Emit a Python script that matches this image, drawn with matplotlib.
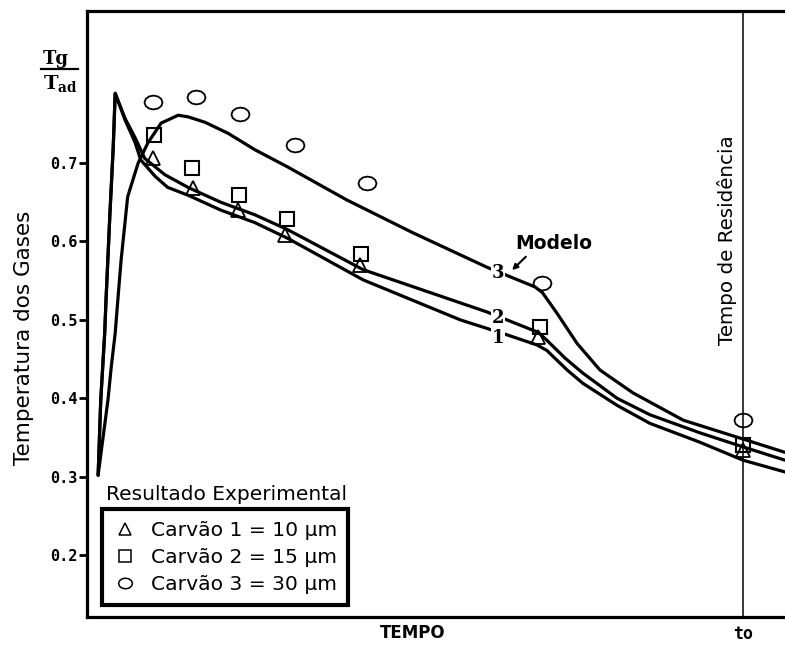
import numpy as np
import matplotlib
matplotlib.use('Agg')
import matplotlib.pyplot as plt
from matplotlib.path import Path
from matplotlib.lines import Line2D

# curvas do modelo (tempo normalizado, to = 1)
x_mod1 = [0.017, 0.021, 0.027, 0.029, 0.035, 0.040, 0.043, 0.058, 0.073, 0.082, 0.104, 0.123,
          0.154, 0.204, 0.256, 0.306, 0.421, 0.569, 0.640, 0.686, 0.701, 0.732, 0.756, 0.808,
          0.858, 0.934, 1.000, 1.064]
y_mod1 = [0.302, 0.398, 0.483, 0.525, 0.636, 0.720, 0.789, 0.755, 0.727, 0.704, 0.683, 0.669,
          0.659, 0.640, 0.624, 0.604, 0.551, 0.500, 0.481, 0.468, 0.461, 0.436, 0.419, 0.391,
          0.368, 0.344, 0.321, 0.306]

x_mod2 = [0.017, 0.021, 0.027, 0.029, 0.035, 0.040, 0.043, 0.058, 0.073, 0.088, 0.119, 0.154,
          0.204, 0.256, 0.306, 0.421, 0.610, 0.640, 0.688, 0.701, 0.729, 0.756, 0.808, 0.858,
          0.934, 1.000, 1.064]
y_mod2 = [0.302, 0.398, 0.483, 0.525, 0.636, 0.720, 0.789, 0.757, 0.733, 0.706, 0.685, 0.669,
          0.650, 0.634, 0.615, 0.564, 0.510, 0.500, 0.484, 0.474, 0.451, 0.432, 0.400, 0.379,
          0.356, 0.338, 0.321]

x_mod3 = [0.017, 0.032, 0.037, 0.043, 0.047, 0.052, 0.062, 0.078, 0.093, 0.113, 0.139, 0.154,
          0.180, 0.215, 0.256, 0.306, 0.396, 0.497, 0.610, 0.645, 0.683, 0.694, 0.716, 0.747,
          0.782, 0.832, 0.909, 1.000, 1.064]
y_mod3 = [0.302, 0.398, 0.440, 0.483, 0.525, 0.576, 0.657, 0.700, 0.726, 0.751, 0.761, 0.759,
          0.752, 0.738, 0.717, 0.695, 0.653, 0.611, 0.567, 0.555, 0.542, 0.535, 0.509, 0.470,
          0.436, 0.407, 0.372, 0.348, 0.331]

# resultados experimentais
x_c1 = [0.101, 0.162, 0.230, 0.302, 0.416, 0.688, 1.000]
y_c1 = [0.706, 0.668, 0.640, 0.608, 0.570, 0.478, 0.334]
x_c2 = [0.102, 0.160, 0.232, 0.305, 0.418, 0.691, 1.000]
y_c2 = [0.736, 0.694, 0.659, 0.629, 0.584, 0.491, 0.340]
x_c3 = [0.101, 0.166, 0.233, 0.317, 0.427, 0.694, 1.000]
y_c3 = [0.778, 0.784, 0.763, 0.723, 0.674, 0.547, 0.372]

yticks = [0.2, 0.3, 0.4, 0.5, 0.6, 0.7]
ytick_labels = ['0.2', '0.3', '0.4', '0.5', '0.6', '0.7']
legend_labels = ['Carvão 1 = 10 µm', 'Carvão 2 = 15 µm', 'Carvão 3 = 30 µm']

plt.rcParams['mathtext.fontset'] = 'dejavuserif'

# marcador oval (circulo achatado)
t = np.linspace(0, 2 * np.pi, 13)
oval = Path(np.column_stack([1.3 * np.cos(t), np.sin(t)]), closed=True)

fig = plt.figure(figsize=(7.85, 6.46), dpi=100)
ax = fig.add_axes([0.1108, 0.0449, 0.8892, 0.9381])
ax.set_xlim(0, 1.064)
ax.set_ylim(0.121, 0.894)

lw = 2.3
for xs, ys in [(x_mod1, y_mod1), (x_mod2, y_mod2), (x_mod3, y_mod3)]:
    ax.plot(xs, ys, color='black', lw=lw, solid_joinstyle='round', solid_capstyle='round', zorder=2)

ax.plot(x_c1, y_c1, ls='none', marker='^', ms=10, mfc='none', mec='black', mew=1.3, zorder=3)
ax.plot(x_c2, y_c2, ls='none', marker='s', ms=9.5, mfc='none', mec='black', mew=1.5, zorder=3)
ax.plot(x_c3, y_c3, ls='none', marker=oval, ms=13, mfc='none', mec='black', mew=1.3, zorder=3)

# tempo de residencia
ax.axvline(1.0, color='black', lw=1.1, zorder=1)
ax.text(0.976, 0.602, 'Tempo de Residência', rotation=90, ha='center', va='center',
        fontsize=14.3, family='DejaVu Sans')

# rotulos das curvas
for lab, yy in [('3', 0.560), ('2', 0.502), ('1', 0.477)]:
    ax.text(0.627, yy, lab, ha='center', va='center', fontsize=13, family='DejaVu Serif',
            weight='bold', bbox=dict(facecolor='white', edgecolor='none', pad=0.5), zorder=4)
ax.annotate('', xy=(0.645, 0.561), xytext=(0.672, 0.583),
            arrowprops=dict(arrowstyle='-|>', color='black', lw=1.5, mutation_scale=8))
ax.text(0.712, 0.597, 'Modelo', ha='center', va='center', fontsize=13.5, weight='bold')

# eixos
for s in ['top', 'left', 'bottom']:
    ax.spines[s].set_linewidth(2.3)
ax.spines['right'].set_visible(False)
ax.set_yticks(yticks)
ax.set_yticklabels(ytick_labels, family='DejaVu Sans Mono', weight='bold', fontsize=11)
ax.tick_params(axis='y', direction='out', length=6, width=2, pad=1)
ax.set_xticks([1.0])
ax.set_xticklabels(['to'], family='DejaVu Sans Mono', weight='bold', fontsize=12)
ax.tick_params(axis='x', length=0, pad=6)

fig.text(413 / 785, 1 - 633 / 646, 'TEMPO', ha='center', va='center', fontsize=12, weight='bold')
fig.text(24 / 785, 1 - 338 / 646, 'Temperatura dos Gases', rotation=90, ha='center', va='center',
         fontsize=15.5)

# Tg / Tad
fig.text(56 / 785, 1 - 59 / 646, 'Tg', ha='center', va='center', fontsize=13,
         family='DejaVu Serif', weight='bold')
fig.add_artist(Line2D([41 / 785, 78 / 785], [1 - 69 / 646, 1 - 69 / 646], color='black', lw=1.6))
fig.text(60 / 785, 1 - 84 / 646, r'$\mathbf{T_{ad}}$', ha='center', va='center', fontsize=14)

# legenda
handles = [Line2D([], [], ls='none', marker='^', ms=9, mfc='none', mec='black', mew=1.1),
           Line2D([], [], ls='none', marker='s', ms=8.5, mfc='none', mec='black', mew=1.1),
           Line2D([], [], ls='none', marker=oval, ms=10, mfc='none', mec='black', mew=1.1)]
leg = ax.legend(handles, legend_labels, loc='lower left',
                bbox_to_anchor=(102 / 785, 1 - 605 / 646), bbox_transform=fig.transFigure,
                fontsize=14.6, frameon=True, fancybox=False, framealpha=1, borderpad=0.55,
                labelspacing=0.4, handlelength=1.2, handletextpad=0.65, borderaxespad=0)
leg.get_frame().set_edgecolor('black')
leg.get_frame().set_linewidth(3.0)
fig.text(227 / 785, 1 - 494 / 646, 'Resultado Experimental', ha='center', va='center',
         fontsize=14.5)

fig.savefig('out.png', dpi=100)
